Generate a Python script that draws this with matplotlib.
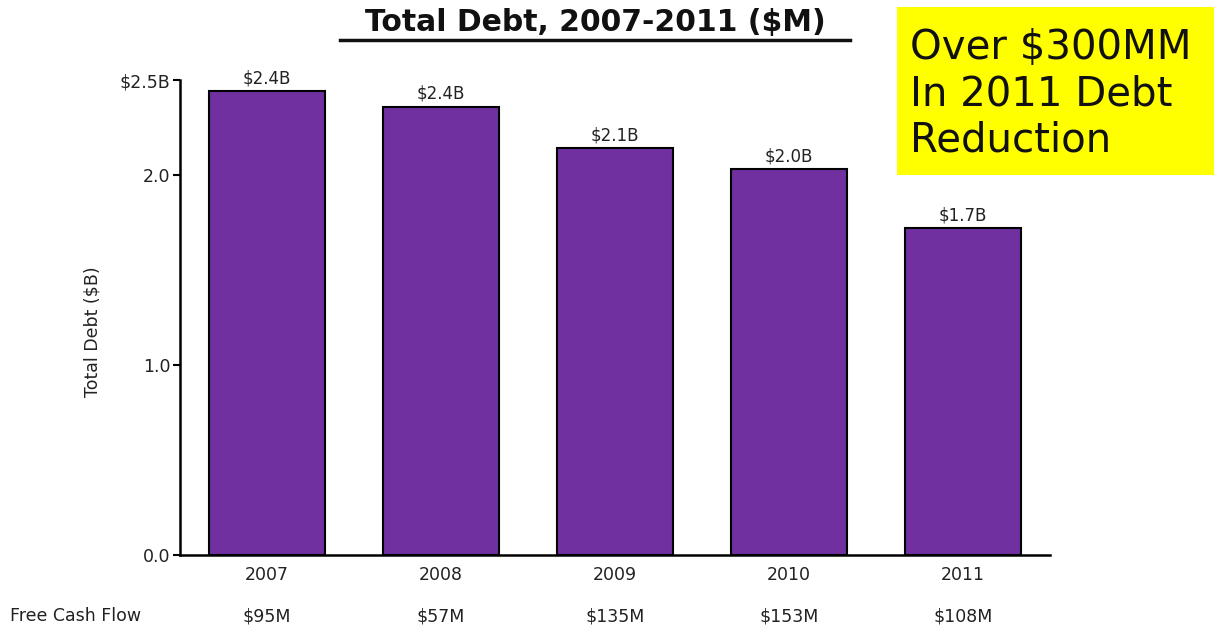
import matplotlib.pyplot as plt

years = ["2007", "2008", "2009", "2010", "2011"]
debt = [2.44, 2.36, 2.14, 2.03, 1.72]
debt_labels = ["$2.4B", "$2.4B", "$2.1B", "$2.0B", "$1.7B"]
fcf_labels = ["$95M", "$57M", "$135M", "$153M", "$108M"]
ytick_vals = [0.0, 1.0, 2.0, 2.5]
ytick_labels = ["0.0", "1.0", "2.0", "$2.5B"]

fig = plt.figure(figsize=(12.14, 6.33), dpi=100)
ax = fig.add_axes([0.1483, 0.1232, 0.7167, 0.7504])

x = list(range(len(years)))
bars = ax.bar(x, debt, width=0.67, color="#7030A0", edgecolor="black", linewidth=1.5)

# labels above bars
for xi, v, lab in zip(x, debt, debt_labels):
    ax.text(xi, v + 0.02, lab, ha="center", va="bottom", fontsize=12, color="#222222")

ax.set_xlim(-0.5, 4.5)
ax.set_ylim(0, 2.5)
ax.set_xticks(x)
ax.set_xticklabels(years, fontsize=12.5, color="#222222")
ax.tick_params(axis="x", length=0, pad=8)
ax.set_yticks(ytick_vals)
ax.set_yticklabels(ytick_labels, fontsize=12.5, color="#222222")
ax.tick_params(axis="y", length=5, width=1.5, direction="out", pad=2)

for s in ["top", "right"]:
    ax.spines[s].set_visible(False)
for s in ["left", "bottom"]:
    ax.spines[s].set_linewidth(1.8)
    ax.spines[s].set_color("black")

ax.set_ylabel("Total Debt ($B)", fontsize=12.5, color="#222222")
ax.yaxis.set_label_coords(-0.09, 0.47)

# free cash flow row
fig.text(10 / 1214, 1 - 616 / 633, "Free Cash Flow", fontsize=12.5, va="center", ha="left", color="#222222")
for xi, lab in zip(x, fcf_labels):
    ax.text(xi, -0.325, lab, ha="center", va="center", fontsize=12.5, color="#222222",
            transform=ax.transData, clip_on=False)

# title with underline
fig.text(595 / 1214, 1 - 22 / 633, "Total Debt, 2007-2011 ($M)", fontsize=21.5, fontweight="bold",
         ha="center", va="center", color="#111111")
fig.add_artist(plt.Line2D([340 / 1214, 850 / 1214], [1 - 40 / 633, 1 - 40 / 633],
                          color="#111111", linewidth=2.5))

# yellow callout
fig.patches.append(plt.Rectangle((897 / 1214, 1 - 175 / 633), 1 - 897 / 1214, 168 / 633,
                                 transform=fig.transFigure, facecolor="#FFFF00", edgecolor="none"))
fig.text(910 / 1214, 1 - 94 / 633, "Over $300MM\nIn 2011 Debt\nReduction", fontsize=29,
         ha="left", va="center", color="#111111", linespacing=1.2)

fig.savefig("out.png", dpi=100)
